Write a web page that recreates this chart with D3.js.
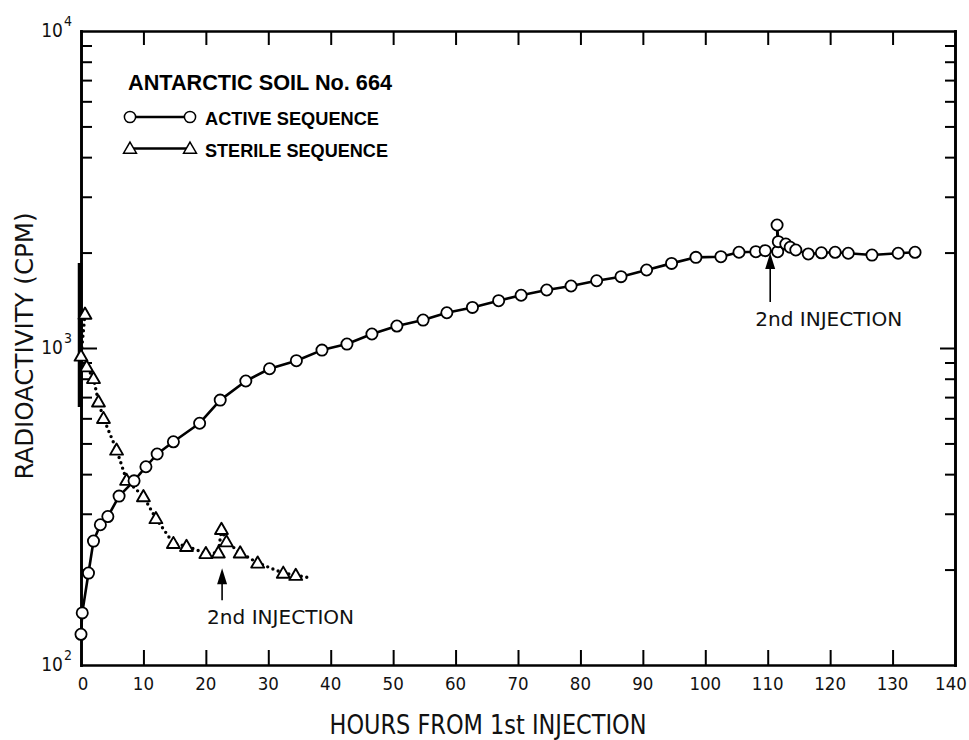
<!DOCTYPE html>
<html><head><meta charset="utf-8">
<script src="https://cdn.jsdelivr.net/npm/d3@7"></script>
<style>
html,body{margin:0;padding:0;background:#fff;}
svg{display:block;}
.lbl{font-family:"Liberation Sans Narrow","DejaVu Sans Condensed","Open Sans",sans-serif;fill:#111;}
.leg{font-family:"Liberation Sans",Arial,sans-serif;font-weight:bold;fill:#000;}
</style></head>
<body>
<script>
// ---- data ----
const activeHours = [0,0.2,1.2,2.0,3.1,4.3,6.1,8.5,10.4,12.2,14.8,19.0,22.3,26.4,30.2,34.5,38.6,42.6,46.6,50.6,54.8,58.6,62.7,66.9,70.5,74.6,78.5,82.6,86.5,90.6,94.6,98.5,102.5,105.4,108.1,109.6,111.6,111.5,111.7,112.9,113.6,114.5,116.5,118.6,120.8,122.9,126.7,130.9,133.6];
const activeCpm   = [125,146,195,246,277,294,341,381,422,463,506,579,685,787,860,912,985,1029,1107,1173,1225,1292,1343,1410,1467,1524,1569,1630,1679,1762,1849,1932,1941,2005,2013,2028,2013,2443,2165,2128,2079,2038,1980,1997,2004,1990,1964,1990,2004];
const sterileHours = [0.64,0.0,0.9,2.0,2.8,3.6,5.7,7.3,10.0,12.0,14.8,16.9,20.0,22.0,22.5,23.3,25.5,28.3,32.4,34.4];
const sterileCpm   = [1280,944,873,802,677,600,477,383,340,290,242,237,225,226,268,245,226,210,195,192];
const sterileTailHours = [34.4,36.9];
const sterileTailCpm   = [192,188];
const initialSpreadHours = [0,0];
const initialSpreadCpm   = [651,1854];
const xTicks = [0,10,20,30,40,50,60,70,80,90,100,110,120,130,140];
const yMajor = [100,1000,10000];
const yExponents = ["2","3","4"];
const yMinor = [200,300,400,500,600,700,800,900,2000,3000,4000,5000,6000,7000,8000,9000];
const arrowHours = [22.6,110.4];
const arrowTipCpm = [202,1994];
const arrowTailCpm = [160,1397];
const arrowText = ["2nd INJECTION","2nd INJECTION"];
const legendTitle = "ANTARCTIC SOIL No. 664";
const legendNames = ["ACTIVE SEQUENCE","STERILE SEQUENCE"];
const xTitle = "HOURS FROM 1st INJECTION";
const yTitle = "RADIOACTIVITY (CPM)";

// ---- drawing ----
const W=969,H=740;
const svg=d3.select("body").append("svg").attr("width",W).attr("height",H);
const x=d3.scaleLinear().domain([0,140]).range([81,955]);
const y=d3.scaleLog().domain([100,10000]).range([665,31]);

const frameW=2.6;
function styleAxis(g){
  g.select(".domain").attr("stroke","#000").attr("stroke-width",frameW);
  g.selectAll(".tick line").attr("stroke","#000").attr("stroke-width",2);
}
const innerX = xTicks.filter(v=>v>0&&v<140);
const gb=svg.append("g").attr("transform",`translate(0,${y(100)})`)
  .call(d3.axisBottom(x).tickValues(innerX).tickSizeInner(-15).tickSizeOuter(0).tickFormat(""));
styleAxis(gb);
const gt=svg.append("g").attr("transform",`translate(0,${y(10000)})`)
  .call(d3.axisTop(x).tickValues(innerX).tickSizeInner(-14).tickSizeOuter(0).tickFormat(""));
styleAxis(gt);
const gl=svg.append("g").attr("transform",`translate(${x(0)},0)`)
  .call(d3.axisLeft(y).tickValues(yMinor).tickSizeInner(-11).tickSizeOuter(0).tickFormat(""));
styleAxis(gl);
const glm=svg.append("g").attr("transform",`translate(${x(0)},0)`)
  .call(d3.axisLeft(y).tickValues([1000]).tickSizeInner(-16).tickSizeOuter(0).tickFormat(""));
styleAxis(glm);
const gr=svg.append("g").attr("transform",`translate(${x(140)},0)`)
  .call(d3.axisRight(y).tickValues(yMinor).tickSizeInner(-10).tickSizeOuter(0).tickFormat(""));
styleAxis(gr);
const grm=svg.append("g").attr("transform",`translate(${x(140)},0)`)
  .call(d3.axisRight(y).tickValues([1000]).tickSizeInner(-15).tickSizeOuter(0).tickFormat(""));
styleAxis(grm);
svg.selectAll(".domain").attr("stroke-linecap","square");

// x tick labels
svg.append("g").selectAll("text").data(xTicks).join("text").attr("class","lbl")
  .attr("x",d=>d===0?x(d)+2:(d===140?x(d)-4:x(d))).attr("y",y(100)+25).attr("text-anchor","middle")
  .attr("font-size",18.5).text(d=>d);
// y tick labels with superscripts
const yl=svg.append("g").selectAll("g").data(yMajor).join("g");
yl.append("text").attr("class","lbl").attr("x",63).attr("y",d=>y(d)+5.5)
  .attr("text-anchor","end").attr("font-size",19).text("10");
yl.append("text").attr("class","lbl").attr("x",64).attr("y",d=>y(d)-5)
  .attr("font-size",14).text((d,i)=>yExponents[i]);

// axis titles
svg.append("text").attr("class","lbl").attr("x",488).attr("y",734)
  .attr("text-anchor","middle").attr("font-size",26)
  .attr("textLength",317).attr("lengthAdjust","spacingAndGlyphs").text(xTitle);
svg.append("text").attr("class","lbl").attr("transform","translate(33,346) rotate(-90)")
  .attr("text-anchor","middle").attr("font-size",25)
  .attr("textLength",267).attr("lengthAdjust","spacingAndGlyphs").text(yTitle);

// initial spread bar
svg.append("line").attr("x1",x(initialSpreadHours[0])-1).attr("x2",x(initialSpreadHours[1])-1)
  .attr("y1",y(initialSpreadCpm[0])).attr("y2",y(initialSpreadCpm[1]))
  .attr("stroke","#000").attr("stroke-width",4.5);

// sterile dotted line
const sterile=sterileHours.map((h,i)=>[h,sterileCpm[i]]);
const sterileTail=sterileTailHours.map((h,i)=>[h,sterileTailCpm[i]]);
const line=d3.line().x(d=>x(d[0])).y(d=>y(d[1]));
[sterile,sterileTail].forEach(s=>{
  svg.append("path").attr("d",line(s)).attr("fill","none").attr("stroke","#000")
    .attr("stroke-width",3.4).attr("stroke-linecap","round").attr("stroke-dasharray","0 5.6");
});
// active solid line
const active=activeHours.map((h,i)=>[h,activeCpm[i]]);
svg.append("path").attr("d",line(active)).attr("fill","none").attr("stroke","#000")
  .attr("stroke-width",2.6).attr("stroke-linejoin","round");

// markers
const tri=d3.symbol().type(d3.symbolTriangle).size(72);
svg.append("g").selectAll("path").data(sterile).join("path")
  .attr("d",tri).attr("transform",d=>`translate(${x(d[0])},${y(d[1])+1})`)
  .attr("fill","#fff").attr("stroke","#000").attr("stroke-width",1.9).attr("stroke-linejoin","round");
svg.append("g").selectAll("circle").data(active).join("circle")
  .attr("cx",d=>x(d[0])).attr("cy",d=>y(d[1])).attr("r",5.6)
  .attr("fill","#fff").attr("stroke","#000").attr("stroke-width",1.8);

// arrows + annotations
arrowHours.forEach((h,i)=>{
  const ax=x(h), tip=y(arrowTipCpm[i]), tail=y(arrowTailCpm[i]);
  svg.append("line").attr("x1",ax).attr("x2",ax).attr("y1",tail).attr("y2",tip+10)
    .attr("stroke","#000").attr("stroke-width",1.6);
  svg.append("path").attr("d",`M${ax},${tip} L${ax-5},${tip+16} L${ax+5},${tip+16} Z`).attr("fill","#000");
  svg.append("text").attr("class","lbl").attr("x",ax-15).attr("y",tail+24)
    .attr("font-size",20).attr("textLength",147).attr("lengthAdjust","spacingAndGlyphs")
    .text(arrowText[i]);
});

// legend
svg.append("text").attr("class","leg").attr("x",128).attr("y",90).attr("font-size",22.5)
  .attr("textLength",264).attr("lengthAdjust","spacingAndGlyphs").text(legendTitle);
const legY=[117,148.5];
legendNames.forEach((n,i)=>{
  const g=svg.append("g");
  g.append("line").attr("x1",130).attr("x2",190).attr("y1",legY[i]).attr("y2",legY[i])
    .attr("stroke","#000").attr("stroke-width",2.6);
  [130,190].forEach(cx=>{
    if(i===0) g.append("circle").attr("cx",cx).attr("cy",legY[i]).attr("r",5.6)
      .attr("fill","#fff").attr("stroke","#000").attr("stroke-width",1.5);
    else g.append("path").attr("d",tri).attr("transform",`translate(${cx},${legY[i]+1})`)
      .attr("fill","#fff").attr("stroke","#000").attr("stroke-width",1.5);
  });
  g.append("text").attr("class","leg").attr("x",205).attr("y",legY[i]+8.3).attr("font-size",19)
    .attr("textLength",i===0?174:183).attr("lengthAdjust","spacingAndGlyphs").text(n);
});
</script>
</body></html>
